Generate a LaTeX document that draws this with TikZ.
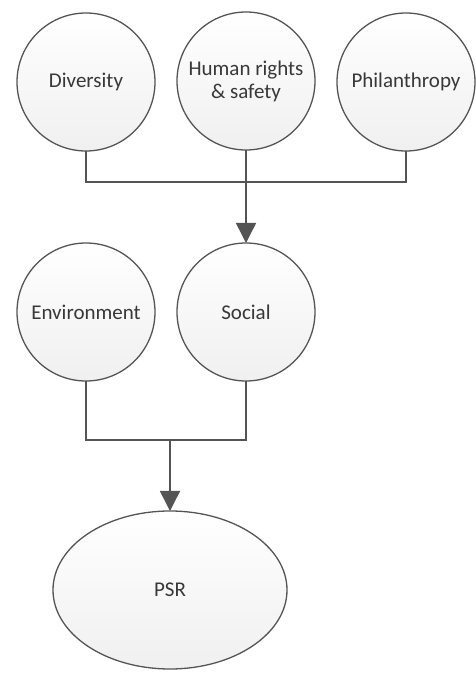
\documentclass[tikz,border=0pt]{standalone}
\usepackage{fontspec}
\setmainfont{Carlito}
\usetikzlibrary{arrows.meta,shapes.geometric}
\definecolor{linegray}{gray}{0.33}
\definecolor{textgray}{gray}{0.22}
\definecolor{fillgray}{gray}{0.94}

\begin{document}
\begin{tikzpicture}[x=1pt,y=1pt,
    line width=1.5pt, line cap=butt, line join=miter,
    every node/.style={inner sep=0pt,outer sep=0pt},
    bubble/.style={circle,draw=linegray,line width=1.3pt,minimum size=138pt,
      top color=white,bottom color=fillgray,text=textgray,align=center,
      font=\fontsize{21}{23}\selectfont},
    oval/.style={ellipse,draw=linegray,line width=1.3pt,minimum width=234pt,minimum height=158pt,
      top color=white,bottom color=fillgray,text=textgray,
      font=\fontsize{21}{23}\selectfont},
    link/.style={draw=linegray},
    tip/.style={-{Triangle[width=20pt,length=20pt]},draw=linegray,fill=linegray}]
  \useasboundingbox (0,0) rectangle (475,673);
  % ---- 上层三个圆 ----
  \node[bubble] (div)  at ( 86,591) {Diversity};
  \node[bubble] (hum)  at (246,592) {Human rights\\\& safety};
  \node[bubble] (phil) at (406,591) {Philanthropy};
  % ---- 中层 ----
  \node[bubble] (env) at ( 86,361) {Environment};
  \node[bubble] (soc) at (246,361) {Social};
  % ---- 底部椭圆 ----
  \node[oval] (psr) at (170,83) {PSR};
  % ---- 汇合点 ----
  \coordinate (j1) at (246,491);
  \coordinate (j2) at (170,233);
  % ---- 连线 ----
  \draw[link] (div.south) |- (j1) -| (phil.south);
  \draw[tip] (hum.south) -- (soc.north);
  \draw[link] (env.south) |- (j2) -| (soc.south);
  \draw[tip] (j2) -- (psr.north);
\end{tikzpicture}
\end{document}
